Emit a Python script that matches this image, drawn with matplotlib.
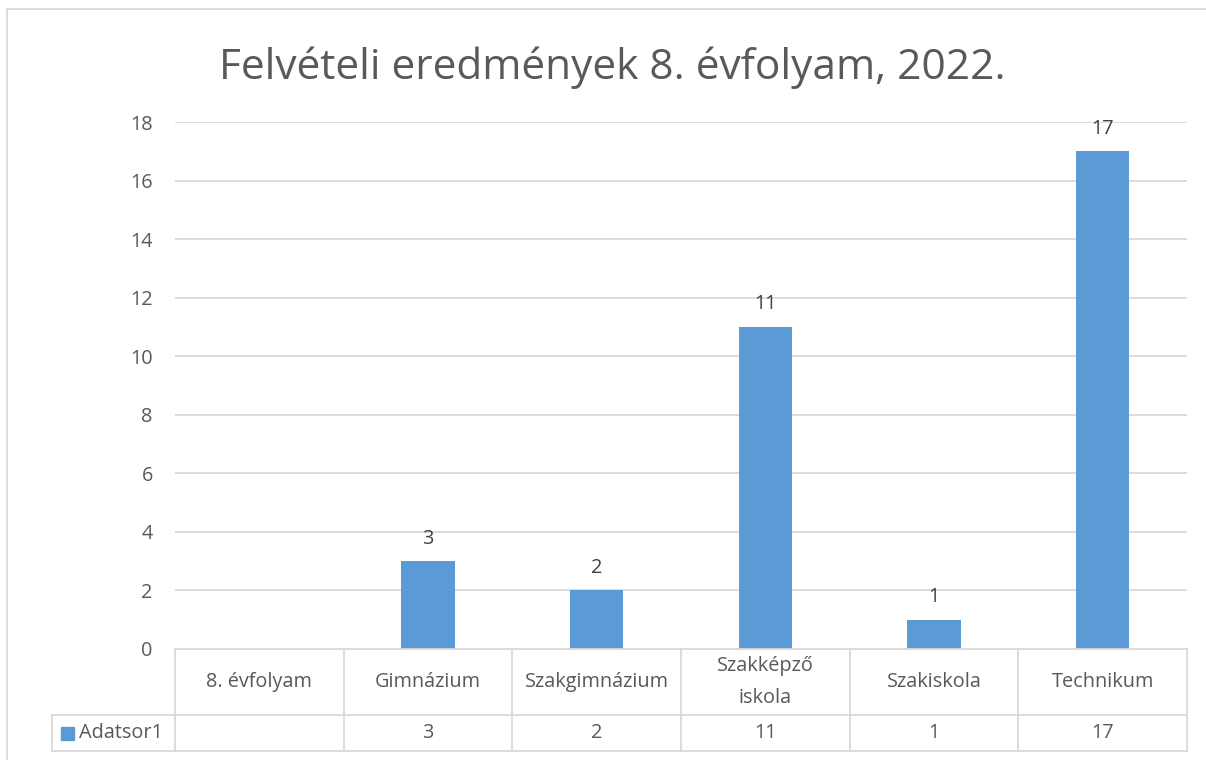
import numpy as np
import matplotlib
matplotlib.use("Agg")
import matplotlib.pyplot as plt
from matplotlib.transforms import blended_transform_factory
from matplotlib.lines import Line2D
from matplotlib.patches import Rectangle

categories = ["8. évfolyam", "Gimnázium", "Szakgimnázium", "Szakképző\niskola", "Szakiskola", "Technikum"]
values = [np.nan, 3, 2, 11, 1, 17]
series_name = "Adatsor1"
title = "Felvételi eredmények 8. évfolyam, 2022."
yticks = list(range(0, 19, 2))

W, H = 1206, 760
BAR = "#5b9bd5"
GRID = "#d9d9d9"
TXT = "#595959"
FS = 14.3
plt.rcParams['font.family'] = ['Open Sans', 'DejaVu Sans']

fig = plt.figure(figsize=(W / 100, H / 100), dpi=100)

def fx(px):
    return px / W

def fy(py):
    return 1 - py / H

x0, x1, ytop, ybot = 175, 1187, 122, 649
ax = fig.add_axes([fx(x0), fy(ybot), fx(x1) - fx(x0), fy(ytop) - fy(ybot)])
n = len(categories)
x = np.arange(n)
ax.bar(x, values, width=0.315, color=BAR, zorder=3)
ax.set_xlim(-0.5, n - 0.5)
ax.set_ylim(0, 18)
ax.set_yticks(yticks)
ax.set_yticklabels([str(t) for t in yticks], fontsize=FS, color=TXT)
ax.tick_params(axis='y', length=0, pad=16)
ax.set_xticks([])
for s in ax.spines.values():
    s.set_visible(False)
for t in yticks[1:]:
    ax.axhline(t, color=GRID, lw=1.3, zorder=1)
for xi, v in zip(x, values):
    if not np.isnan(v):
        ax.annotate(f"{int(v)}", (xi, v), xytext=(0, 9), textcoords="offset points",
                    ha="center", va="bottom", fontsize=FS, color="#404040")

fig.text(fx(612), fy(68), title, ha="center", va="center", fontsize=30.5, color=TXT)

# data table
tr = blended_transform_factory(ax.transData, fig.transFigure)
yh, yd, ye = fy(649), fy(715), fy(751)
lw = 1.3
def hline(xa, xb, y, transform):
    fig.add_artist(Line2D([xa, xb], [y, y], color=GRID, lw=lw, transform=transform))
def vline(xv, ya, yb, transform):
    fig.add_artist(Line2D([xv, xv], [ya, yb], color=GRID, lw=lw, transform=transform))

hline(-0.5, n - 0.5, yh, tr)
hline(fx(52), fx(x0), yd, fig.transFigure)
hline(fx(52), fx(x0), ye, fig.transFigure)
hline(-0.5, n - 0.5, yd, tr)
hline(-0.5, n - 0.5, ye, tr)
for b in np.arange(-0.5, n, 1.0):
    vline(b, yh, ye, tr)
vline(fx(52), yd, ye, fig.transFigure)

for xi, c in zip(x, categories):
    fig.text(xi, (yh + yd) / 2, c, transform=tr, ha="center", va="center",
             fontsize=FS, color=TXT, linespacing=1.75)
for xi, v in zip(x, values):
    if not np.isnan(v):
        fig.text(xi, (yd + ye) / 2, f"{int(v)}", transform=tr, ha="center", va="center",
                 fontsize=FS, color=TXT)

fig.add_artist(Rectangle((fx(61), fy(740)), fx(74) - fx(61), fy(727) - fy(740),
                         color=BAR, transform=fig.transFigure))
fig.text(fx(79), (yd + ye) / 2, series_name, ha="left", va="center", fontsize=FS, color=TXT)

# chart border
hline(fx(7), 1.0, fy(9), fig.transFigure)
vline(fx(7), fy(9), 0.0, fig.transFigure)

fig.savefig("out.png", dpi=100)
